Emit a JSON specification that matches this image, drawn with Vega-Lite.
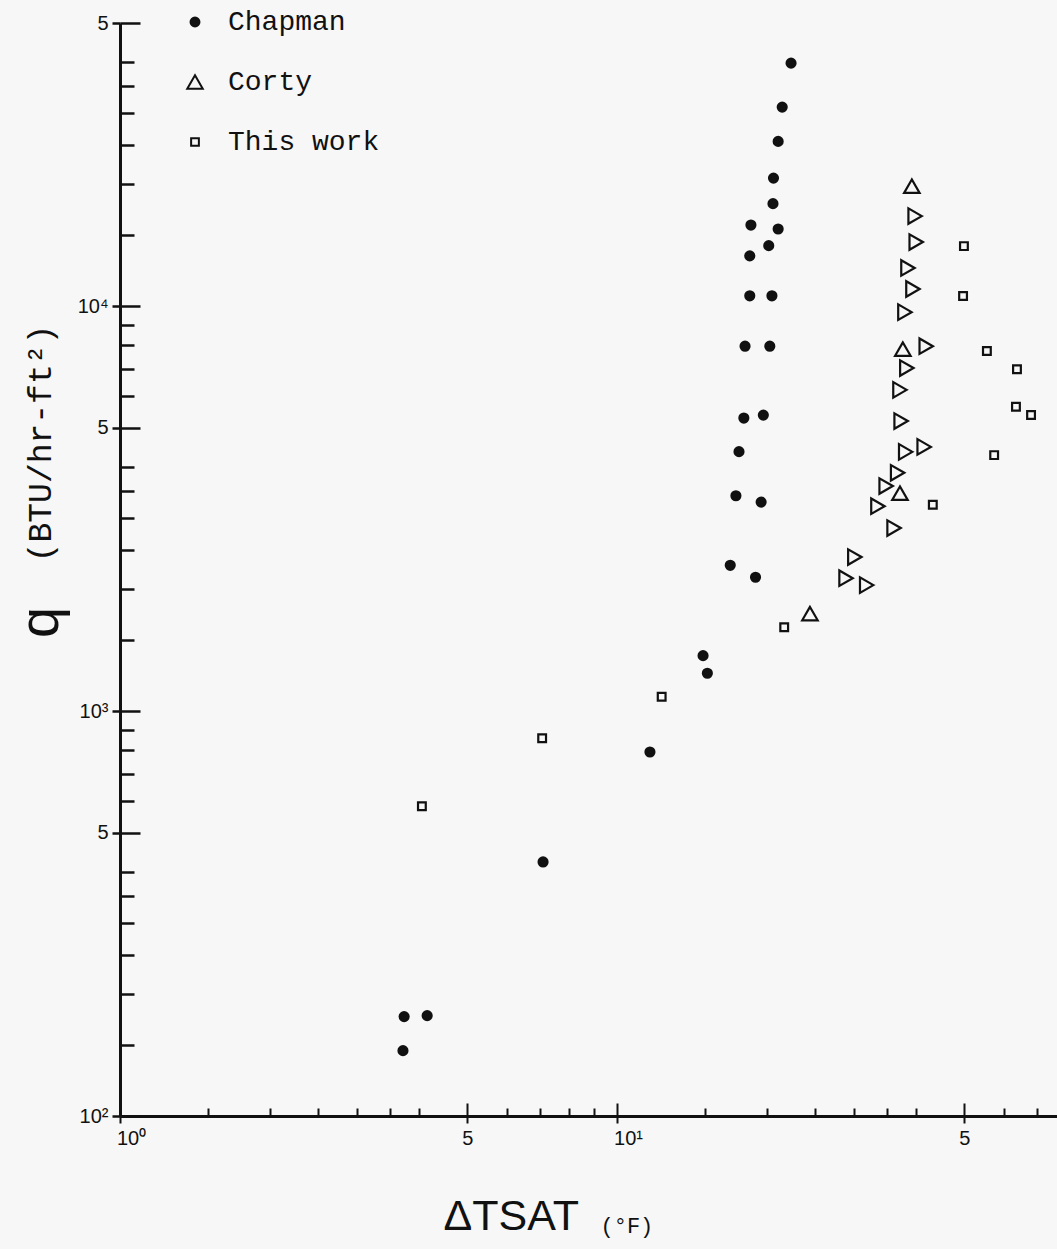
{
  "$schema": "https://vega.github.io/schema/vega-lite/v6.json",
  "width": 937,
  "height": 1093,
  "autosize": {"type": "none"},
  "padding": {"left": 120, "top": 23, "right": 0, "bottom": 133},
  "background": "#f7f7f7",
  "config": {
    "view": {"stroke": null},
    "axis": {"grid": false, "domainColor": "#111", "tickColor": "#111", "labelColor": "#111", "titleColor": "#111", "titleFontWeight": "normal"},
    "legend": {"orient": "none", "legendX": 61, "legendY": -15, "labelFont": "Liberation Mono", "labelFontSize": 28, "labelColor": "#111", "labelOffset": 19, "rowPadding": 32, "symbolStrokeWidth": 2, "padding": 0}
  },
  "datasets": {
    "points": [
      {"series": "Chapman", "set": "A", "dT": 22.4, "q": 39800},
      {"series": "Chapman", "set": "A", "dT": 21.5, "q": 31000},
      {"series": "Chapman", "set": "A", "dT": 21.1, "q": 25500},
      {"series": "Chapman", "set": "A", "dT": 20.65, "q": 20700},
      {"series": "Chapman", "set": "A", "dT": 20.6, "q": 17900},
      {"series": "Chapman", "set": "A", "dT": 18.6, "q": 15850},
      {"series": "Chapman", "set": "A", "dT": 21.1, "q": 15500},
      {"series": "Chapman", "set": "A", "dT": 20.2, "q": 14100},
      {"series": "Chapman", "set": "A", "dT": 18.5, "q": 13300},
      {"series": "Chapman", "set": "A", "dT": 18.5, "q": 10600},
      {"series": "Chapman", "set": "A", "dT": 20.5, "q": 10600},
      {"series": "Chapman", "set": "A", "dT": 18.1, "q": 7960},
      {"series": "Chapman", "set": "A", "dT": 20.3, "q": 7960},
      {"series": "Chapman", "set": "A", "dT": 18.0, "q": 5290},
      {"series": "Chapman", "set": "A", "dT": 19.7, "q": 5380},
      {"series": "Chapman", "set": "A", "dT": 17.6, "q": 4370},
      {"series": "Chapman", "set": "A", "dT": 17.35, "q": 3400},
      {"series": "Chapman", "set": "A", "dT": 19.5, "q": 3280},
      {"series": "Chapman", "set": "A", "dT": 16.9, "q": 2290},
      {"series": "Chapman", "set": "A", "dT": 19.0, "q": 2140},
      {"series": "Chapman", "set": "A", "dT": 14.9, "q": 1370},
      {"series": "Chapman", "set": "A", "dT": 15.2, "q": 1240},
      {"series": "Chapman", "set": "A", "dT": 11.65, "q": 792},
      {"series": "Chapman", "set": "A", "dT": 7.1, "q": 424},
      {"series": "Chapman", "set": "A", "dT": 3.73, "q": 176},
      {"series": "Chapman", "set": "A", "dT": 4.15, "q": 177},
      {"series": "Chapman", "set": "A", "dT": 3.71, "q": 145},
      {"series": "Corty", "set": "A", "dT": 39.2, "q": 19770},
      {"series": "Corty", "set": "A", "dT": 37.6, "q": 7830},
      {"series": "Corty", "set": "A", "dT": 37.1, "q": 3450},
      {"series": "Corty", "set": "A", "dT": 24.45, "q": 1740},
      {"series": "Corty", "set": "B", "dT": 39.8, "q": 16680},
      {"series": "Corty", "set": "B", "dT": 40.0, "q": 14390},
      {"series": "Corty", "set": "B", "dT": 38.5, "q": 12420},
      {"series": "Corty", "set": "B", "dT": 39.4, "q": 11020},
      {"series": "Corty", "set": "B", "dT": 37.96, "q": 9660},
      {"series": "Corty", "set": "B", "dT": 41.9, "q": 7960},
      {"series": "Corty", "set": "B", "dT": 38.3, "q": 7030},
      {"series": "Corty", "set": "B", "dT": 37.1, "q": 6210},
      {"series": "Corty", "set": "B", "dT": 37.3, "q": 5200},
      {"series": "Corty", "set": "B", "dT": 38.1, "q": 4365},
      {"series": "Corty", "set": "B", "dT": 41.5, "q": 4490},
      {"series": "Corty", "set": "B", "dT": 36.7, "q": 3875},
      {"series": "Corty", "set": "B", "dT": 34.8, "q": 3594},
      {"series": "Corty", "set": "B", "dT": 33.5, "q": 3205},
      {"series": "Corty", "set": "B", "dT": 36.1, "q": 2830},
      {"series": "Corty", "set": "B", "dT": 30.1, "q": 2400},
      {"series": "Corty", "set": "B", "dT": 28.9, "q": 2128},
      {"series": "Corty", "set": "B", "dT": 31.8, "q": 2046},
      {"series": "This work", "set": "A", "dT": 49.9, "q": 14060},
      {"series": "This work", "set": "A", "dT": 49.7, "q": 10590},
      {"series": "This work", "set": "A", "dT": 55.5, "q": 7745},
      {"series": "This work", "set": "A", "dT": 63.8, "q": 6980},
      {"series": "This work", "set": "A", "dT": 63.5, "q": 5640},
      {"series": "This work", "set": "A", "dT": 68.1, "q": 5380},
      {"series": "This work", "set": "A", "dT": 57.4, "q": 4285},
      {"series": "This work", "set": "A", "dT": 43.2, "q": 3230},
      {"series": "This work", "set": "A", "dT": 21.7, "q": 1610},
      {"series": "This work", "set": "A", "dT": 12.3, "q": 1084},
      {"series": "This work", "set": "A", "dT": 7.07, "q": 857},
      {"series": "This work", "set": "A", "dT": 4.05, "q": 582}
    ]
  },
  "data": {"name": "points"},
  "resolve": {"axis": {"x": "independent", "y": "independent"}},
  "layer": [
    {
      "transform": [{"filter": "datum.series == 'Chapman' || (datum.series == 'Corty' && datum.set == 'A')"}],
      "mark": {"type": "point", "filled": false, "strokeWidth": 2.2, "opacity": 1},
      "encoding": {
        "x": {
          "field": "dT", "type": "quantitative",
          "scale": {"type": "log", "domain": [1, 76.8], "nice": false, "zero": false},
          "axis": {
            "orient": "bottom", "values": [1, 5, 10, 50],
            "labelExpr": "datum.value == 1 ? '10⁰' : datum.value == 10 ? '10¹' : '5'",
            "ticks": true, "tickSize": 7, "tickWidth": 2, "domain": true, "domainWidth": 3,
            "labelPadding": 5, "labelFont": "Liberation Sans", "labelFontSize": 20, "labelBaseline": "top",
            "labelOffset": {"condition": {"test": "datum.value == 1 || datum.value == 10", "value": 11}, "value": 0},
            "labelFlush": false, "labelOverlap": false,
            "title": "ΔTSAT", "titleFont": "Liberation Sans", "titleFontSize": 43,
            "titleX": 323, "titleY": 113, "titleAlign": "left", "titleBaseline": "alphabetic"
          }
        },
        "y": {
          "field": "q", "type": "quantitative",
          "scale": {"type": "log", "domain": [100, 50000], "nice": false, "zero": false},
          "axis": {
            "orient": "left", "values": [100, 500, 1000, 5000, 10000, 50000],
            "labelExpr": "datum.value == 100 ? '10²' : datum.value == 1000 ? '10³' : datum.value == 10000 ? '10⁴' : '5'",
            "ticks": true, "tickSize": 8, "tickWidth": 2.5, "domain": true, "domainWidth": 3,
            "labelPadding": 4, "labelFont": "Liberation Sans", "labelFontSize": 20, "labelBaseline": "middle",
            "labelFlush": false, "labelOverlap": false,
            "title": "q", "titleFont": "Liberation Sans", "titleFontSize": 56,
            "titleX": -80, "titleY": 599, "titleAlign": "center", "titleBaseline": "middle", "titleAngle": -90
          }
        },
        "shape": {"field": "series", "type": "nominal", "scale": {"domain": ["Chapman", "Corty", "This work"], "range": ["circle", "triangle-up", "square"]}, "legend": {"title": null}},
        "fill": {"field": "series", "type": "nominal", "scale": {"domain": ["Chapman", "Corty", "This work"], "range": ["#111111", "rgba(255,255,255,0)", "rgba(255,255,255,0)"]}, "legend": {"title": null}},
        "stroke": {"field": "series", "type": "nominal", "scale": {"domain": ["Chapman", "Corty", "This work"], "range": ["#111111", "#111111", "#111111"]}, "legend": {"title": null}},
        "size": {"field": "series", "type": "nominal", "scale": {"type": "ordinal", "domain": ["Chapman", "Corty", "This work"], "range": [80, 240, 60]}, "legend": {"title": null}}
      }
    },
    {
      "transform": [{"filter": "datum.set == 'B'"}],
      "mark": {"type": "point", "shape": "triangle-right", "filled": false, "stroke": "#111", "strokeWidth": 2.2, "size": 240, "opacity": 1},
      "encoding": {
        "x": {
          "field": "dT", "type": "quantitative",
          "scale": {"type": "log", "domain": [1, 76.8], "nice": false, "zero": false},
          "axis": {
            "orient": "bottom", "values": [1.5, 2, 2.5, 3, 3.5, 4, 6, 7, 8, 9, 15, 20, 25, 30, 35, 40, 60, 70],
            "labels": false, "domain": false, "ticks": true, "tickSize": -8, "tickWidth": 2,
            "title": "(°F)", "titleFont": "Liberation Mono", "titleFontSize": 22,
            "titleX": 480, "titleY": 116, "titleAlign": "left", "titleBaseline": "alphabetic"
          }
        },
        "y": {
          "field": "q", "type": "quantitative",
          "scale": {"type": "log", "domain": [100, 50000], "nice": false, "zero": false},
          "axis": {
            "orient": "left", "values": [150, 200, 250, 300, 350, 400, 600, 700, 800, 900, 1500, 2000, 2500, 3000, 3500, 4000, 6000, 7000, 8000, 9000, 15000, 20000, 25000, 30000, 35000, 40000],
            "labels": false, "domain": false, "ticks": true, "tickSize": -14, "tickWidth": 2.5,
            "title": "(BTU/hr-ft²)", "titleFont": "Liberation Mono", "titleFontSize": 33,
            "titleX": -80, "titleY": 420, "titleAlign": "center", "titleBaseline": "middle", "titleAngle": -90
          }
        }
      }
    },
    {
      "transform": [{"filter": "datum.series == 'This work'"}],
      "mark": {"type": "point", "filled": false, "strokeWidth": 2.2, "opacity": 1},
      "encoding": {
        "x": {
          "field": "dT", "type": "quantitative",
          "scale": {"type": "log", "domain": [1, 76.8], "nice": false, "zero": false},
          "axis": {"orient": "bottom", "values": [1, 5, 10, 50], "labels": false, "domain": false, "ticks": true, "tickSize": -13, "tickWidth": 2, "title": null}
        },
        "y": {
          "field": "q", "type": "quantitative",
          "scale": {"type": "log", "domain": [100, 50000], "nice": false, "zero": false},
          "axis": {"orient": "left", "values": [100, 500, 1000, 5000, 10000, 50000], "labels": false, "domain": false, "ticks": true, "tickSize": -20, "tickWidth": 2.5, "title": null}
        },
        "shape": {"field": "series", "type": "nominal", "scale": {"domain": ["Chapman", "Corty", "This work"], "range": ["circle", "triangle-up", "square"]}, "legend": {"title": null}},
        "fill": {"field": "series", "type": "nominal", "scale": {"domain": ["Chapman", "Corty", "This work"], "range": ["#111111", "rgba(255,255,255,0)", "rgba(255,255,255,0)"]}, "legend": {"title": null}},
        "stroke": {"field": "series", "type": "nominal", "scale": {"domain": ["Chapman", "Corty", "This work"], "range": ["#111111", "#111111", "#111111"]}, "legend": {"title": null}},
        "size": {"field": "series", "type": "nominal", "scale": {"type": "ordinal", "domain": ["Chapman", "Corty", "This work"], "range": [80, 240, 60]}, "legend": {"title": null}}
      }
    }
  ]
}
